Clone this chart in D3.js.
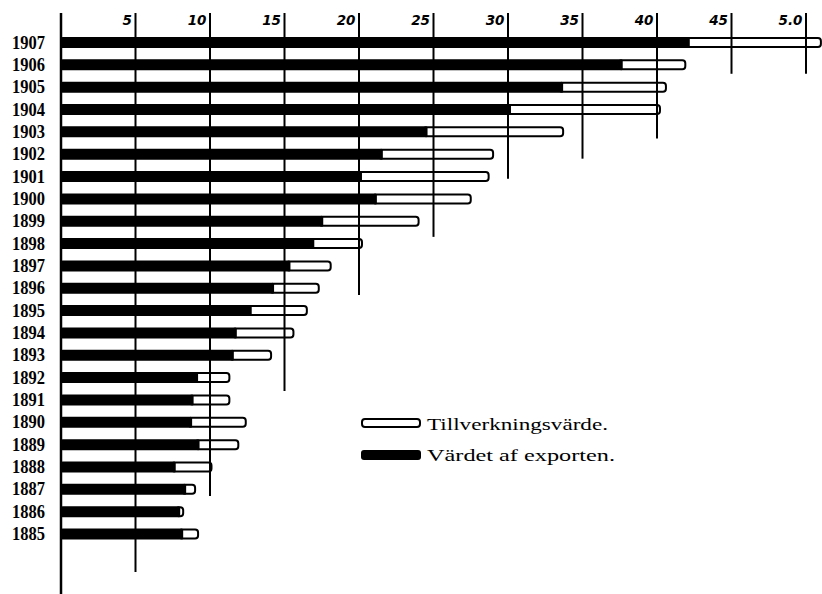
<!DOCTYPE html>
<html><head><meta charset="utf-8">
<script src="https://cdn.jsdelivr.net/npm/d3@7"></script>
<style>body{margin:0;background:#fff}</style>
</head><body><svg id="c" width="822" height="594"></svg>
<script>
const years = [1907,1906,1905,1904,1903,1902,1901,1900,1899,1898,1897,1896,1895,1894,1893,1892,1891,1890,1889,1888,1887,1886,1885];
const tillverkningsvarde = [51.0,41.9,40.6,40.2,33.7,29.0,28.7,27.5,24.0,20.2,18.1,17.3,16.5,15.6,14.1,11.3,11.3,12.4,11.9,10.1,9.0,8.2,9.2];
const exportvarde = [42.2,37.7,33.7,30.2,24.6,21.6,20.2,21.2,17.6,17.0,15.4,14.3,12.8,11.8,11.6,9.2,8.9,8.8,9.3,7.7,8.4,8.0,8.2];
const tickValues = [5,10,15,20,25,30,35,40,45,50];
const tickLabels = ["5","10","15","20","25","30","35","40","45","5.0"];
// lowest year row down to which each vertical line is drawn
const gridReach = [1883.3,1886.7,1891.4,1895.7,1898.3,1900.9,1901.8,1902.7,1905.6,1905.6];
const legendLabels = ["Tillverkningsvärde.","Värdet af exporten."];

const svg = d3.select("#c");
const x = d3.scaleLinear().domain([0,50]).range([61,806]);
const yc = d3.scaleLinear().domain([1885,1907]).range([534,42.5]);
const topY = 13;

const rows = years.map((yr,i)=>({yr, till:tillverkningsvarde[i], exp:exportvarde[i]}));

// outline bars (Tillverkningsvärde)
svg.append("g").selectAll("rect").data(rows).join("rect")
  .attr("x", d=>x(d.exp)-4)
  .attr("y", d=>yc(d.yr)-4.5)
  .attr("width", d=>x(d.till)-x(d.exp)+4)
  .attr("height", 9)
  .attr("rx", 3)
  .attr("fill", "#fff")
  .attr("stroke", "#000")
  .attr("stroke-width", 2);

// black bars (export)
svg.append("g").selectAll("rect").data(rows).join("rect")
  .attr("x", x(0))
  .attr("y", d=>yc(d.yr)-5.5)
  .attr("width", d=>x(d.exp)-x(0))
  .attr("height", 11)
  .attr("rx", 1.5)
  .attr("fill", "#000");

// vertical grid lines
svg.append("g").selectAll("line").data(tickValues).join("line")
  .attr("x1", d=>x(d)).attr("x2", d=>x(d))
  .attr("y1", topY)
  .attr("y2", (d,i)=>yc(gridReach[i]))
  .attr("stroke", "#000").attr("stroke-width", 2);

// main axis line
svg.append("line")
  .attr("x1", x(0)).attr("x2", x(0))
  .attr("y1", topY).attr("y2", 594)
  .attr("stroke", "#000").attr("stroke-width", 2.5);

// top tick labels
const ax = svg.append("g").attr("transform","translate(0,25)")
  .call(d3.axisTop(x).tickValues(tickValues).tickSize(0).tickFormat((d,i)=>tickLabels[i]));
ax.select(".domain").remove();
ax.selectAll("text")
  .attr("x", -4).attr("y", 0).attr("dy", 0)
  .attr("text-anchor", "end")
  .attr("font-family", "DejaVu Sans")
  .attr("font-style", "italic")
  .attr("font-weight", "bold")
  .attr("font-size", 13.5)
  .attr("fill", "#000");

// year labels
svg.append("g").selectAll("text").data(rows).join("text")
  .attr("x", 45)
  .attr("y", d=>yc(d.yr)+6)
  .attr("text-anchor", "end")
  .attr("font-family", "Liberation Serif")
  .attr("font-weight", "bold")
  .attr("font-size", 18.5)
  .attr("textLength", 33)
  .attr("lengthAdjust", "spacingAndGlyphs")
  .attr("fill", "#000")
  .text(d=>d.yr);

// legend
const lg = svg.append("g");
lg.append("rect").attr("x",362).attr("y",419).attr("width",58).attr("height",8).attr("rx",3)
  .attr("fill","#fff").attr("stroke","#000").attr("stroke-width",2);
lg.append("rect").attr("x",361).attr("y",450).attr("width",60).attr("height",10).attr("rx",3)
  .attr("fill","#000");
lg.selectAll("text").data(legendLabels).join("text")
  .attr("x", 427)
  .attr("y", (d,i)=>i===0?430:461)
  .attr("font-family","Liberation Serif")
  .attr("font-size",17)
  .attr("fill","#000")
  .attr("textLength",(d,i)=>i===0?181:188)
  .attr("lengthAdjust","spacingAndGlyphs")
  .text(d=>d);
</script>
</body></html>
